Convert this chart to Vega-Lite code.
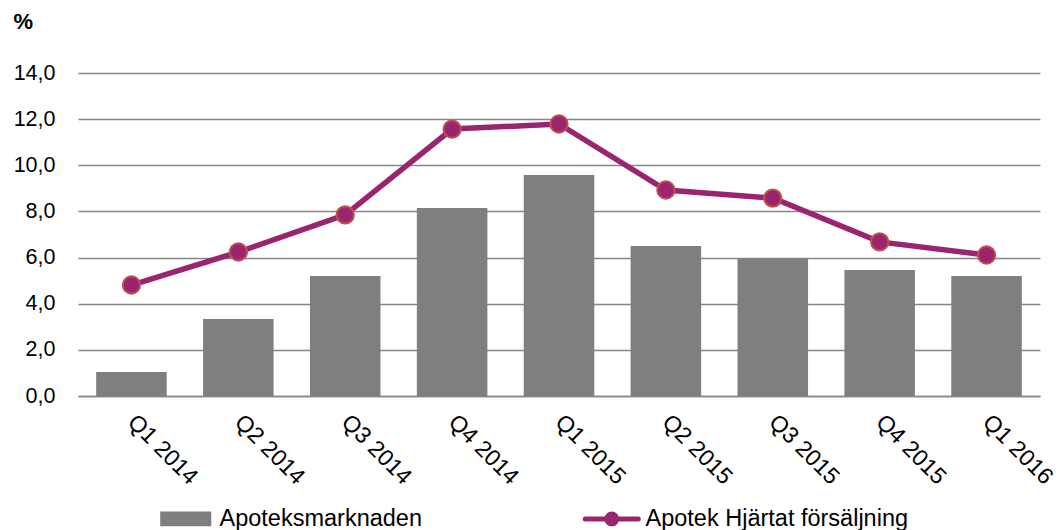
{
  "$schema": "https://vega.github.io/schema/vega-lite/v6.json",
  "width": 962,
  "height": 323,
  "autosize": {"type": "none"},
  "padding": {"left": 78, "top": 73, "right": 20, "bottom": 134},
  "background": "white",
  "config": {
    "font": "Liberation Sans",
    "view": {"stroke": null},
    "legend": {"padding": 0}
  },
  "data": {
    "values": [
      {"quarter": "Q1 2014", "series": "Apoteksmarknaden", "value": 1.04},
      {"quarter": "Q2 2014", "series": "Apoteksmarknaden", "value": 3.34},
      {"quarter": "Q3 2014", "series": "Apoteksmarknaden", "value": 5.2},
      {"quarter": "Q4 2014", "series": "Apoteksmarknaden", "value": 8.15},
      {"quarter": "Q1 2015", "series": "Apoteksmarknaden", "value": 9.58},
      {"quarter": "Q2 2015", "series": "Apoteksmarknaden", "value": 6.5},
      {"quarter": "Q3 2015", "series": "Apoteksmarknaden", "value": 5.94},
      {"quarter": "Q4 2015", "series": "Apoteksmarknaden", "value": 5.46},
      {"quarter": "Q1 2016", "series": "Apoteksmarknaden", "value": 5.2},
      {"quarter": "Q1 2014", "series": "Apotek Hjärtat försäljning", "value": 4.81},
      {"quarter": "Q2 2014", "series": "Apotek Hjärtat försäljning", "value": 6.24},
      {"quarter": "Q3 2014", "series": "Apotek Hjärtat försäljning", "value": 7.85},
      {"quarter": "Q4 2014", "series": "Apotek Hjärtat försäljning", "value": 11.57},
      {"quarter": "Q1 2015", "series": "Apotek Hjärtat försäljning", "value": 11.79},
      {"quarter": "Q2 2015", "series": "Apotek Hjärtat försäljning", "value": 8.93},
      {"quarter": "Q3 2015", "series": "Apotek Hjärtat försäljning", "value": 8.58},
      {"quarter": "Q4 2015", "series": "Apotek Hjärtat försäljning", "value": 6.68},
      {"quarter": "Q1 2016", "series": "Apotek Hjärtat försäljning", "value": 6.11}
    ]
  },
  "encoding": {
    "x": {
      "field": "quarter",
      "type": "ordinal",
      "sort": null,
      "scale": {"paddingInner": 0.34, "paddingOuter": 0.17},
      "axis": {
        "title": null,
        "labelAngle": 45,
        "labelAlign": "left",
        "labelBaseline": "middle",
        "labelPadding": 22,
        "labelFontSize": 23,
        "labelColor": "#000000",
        "ticks": false,
        "domainColor": "#868686",
        "domainWidth": 1.5,
        "labelOverlap": false
      }
    },
    "y": {
      "field": "value",
      "type": "quantitative",
      "scale": {"domain": [0, 14], "nice": false},
      "axis": {
        "values": [0, 2, 4, 6, 8, 10, 12, 14],
        "labelExpr": "replace(format(datum.value, '.1f'), '.', ',')",
        "labelFontSize": 21.5,
        "labelColor": "#000000",
        "labelPadding": 23,
        "ticks": false,
        "domain": false,
        "gridColor": "#868686",
        "gridWidth": 1.3,
        "title": "%",
        "titleAngle": 0,
        "titleAlign": "left",
        "titleBaseline": "middle",
        "titleX": -65,
        "titleY": -52,
        "titleFontSize": 22,
        "titleFontWeight": "bold",
        "titleColor": "#000000"
      }
    }
  },
  "layer": [
    {
      "transform": [{"filter": "datum.series === 'Apoteksmarknaden'"}],
      "mark": {"type": "bar"},
      "encoding": {
        "color": {
          "field": "series",
          "type": "nominal",
          "scale": {
            "domain": ["Apoteksmarknaden", "Apotek Hjärtat försäljning"],
            "range": ["#7F7F7F", "#9B2470"]
          },
          "legend": {
            "title": null,
            "orient": "none",
            "legendX": 96,
            "legendY": 434,
            "direction": "horizontal",
            "columns": 2,
            "columnPadding": 153,
            "labelFontSize": 23.5,
            "labelColor": "#000000",
            "labelOffset": 22,
            "labelLimit": 400,
            "symbolSize": 196,
            "encode": {
              "symbols": {
                "update": {
                  "shape": {"signal": "datum.value === 'Apoteksmarknaden' ? 'M-3.29,-0.7H3.29V0.7H-3.29Z' : 'M-3.79,0H-0.7A0.7,0.7 0 1 1 0.7,0A0.7,0.7 0 1 1 -0.7,0M0.7,0H3.79'"},
                  "fill": {"signal": "datum.value === 'Apoteksmarknaden' ? '#7F7F7F' : '#9B2470'"},
                  "stroke": {"signal": "datum.value === 'Apoteksmarknaden' ? '#7F7F7F' : '#9B2470'"},
                  "strokeWidth": {"value": 5},
                  "strokeCap": {"signal": "datum.value === 'Apoteksmarknaden' ? 'butt' : 'round'"},
                  "strokeJoin": {"value": "miter"},
                  "opacity": {"value": 1}
                }
              }
            }
          }
        }
      }
    },
    {
      "transform": [{"filter": "datum.series !== 'Apoteksmarknaden'"}],
      "mark": {"type": "line", "strokeWidth": 5.5},
      "encoding": {
        "color": {"field": "series", "type": "nominal"}
      }
    },
    {
      "transform": [{"filter": "datum.series !== 'Apoteksmarknaden'"}],
      "mark": {"type": "point", "shape": "circle", "filled": true, "fill": "#9B2470", "stroke": "#C0504D", "strokeWidth": 2, "size": 300, "opacity": 1}
    }
  ]
}
